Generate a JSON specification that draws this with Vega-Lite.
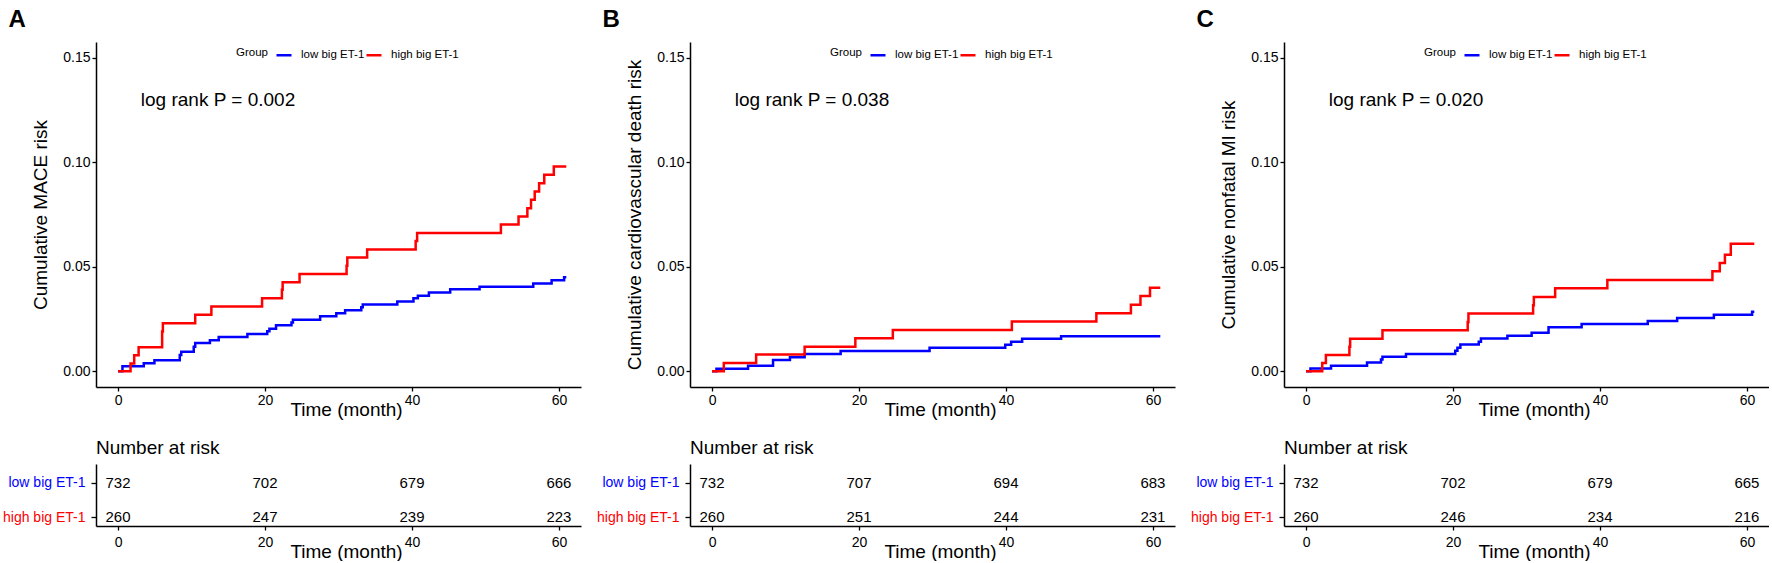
{
  "$schema": "https://vega.github.io/schema/vega-lite/v6.json",
  "padding": {"left": 2, "top": 8, "right": 0, "bottom": 0},
  "background": "white",
  "config": {
    "font": "Liberation Sans",
    "view": {"stroke": null},
    "axis": {"grid": false, "domainColor": "#000", "domainWidth": 1.5, "tickColor": "#000", "tickWidth": 1.3, "tickSize": 4, "labelColor": "#000", "labelFontSize": 14, "labelPadding": 2, "titleColor": "#000", "titleFontSize": 19, "titleFontWeight": "normal"},
    "legend": {"orient": "none", "legendX": 140, "legendY": 4, "direction": "horizontal", "titleOrient": "left", "titleFontSize": 11.5, "titleFontWeight": "normal", "titleColor": "#000", "labelFontSize": 11.5, "labelColor": "#000", "symbolType": "stroke", "symbolStrokeWidth": 2.5, "symbolSize": 225, "labelOffset": 8, "columnPadding": -6, "titlePadding": 7},
    "title": {"color": "#000"}
  },
  "datasets": {
    "km": [
      {"panel": "A", "group": "low big ET-1", "month": 0, "risk": 0},
      {"panel": "A", "group": "low big ET-1", "month": 0.6, "risk": 0.0024},
      {"panel": "A", "group": "low big ET-1", "month": 3.5, "risk": 0.0038},
      {"panel": "A", "group": "low big ET-1", "month": 4.95, "risk": 0.0053},
      {"panel": "A", "group": "low big ET-1", "month": 8.4, "risk": 0.0078},
      {"panel": "A", "group": "low big ET-1", "month": 8.6, "risk": 0.0093},
      {"panel": "A", "group": "low big ET-1", "month": 10.3, "risk": 0.0117},
      {"panel": "A", "group": "low big ET-1", "month": 10.5, "risk": 0.0136},
      {"panel": "A", "group": "low big ET-1", "month": 12.5, "risk": 0.0148},
      {"panel": "A", "group": "low big ET-1", "month": 13.7, "risk": 0.0164},
      {"panel": "A", "group": "low big ET-1", "month": 17.6, "risk": 0.0179},
      {"panel": "A", "group": "low big ET-1", "month": 20.3, "risk": 0.0192},
      {"panel": "A", "group": "low big ET-1", "month": 20.6, "risk": 0.0204},
      {"panel": "A", "group": "low big ET-1", "month": 21.5, "risk": 0.022},
      {"panel": "A", "group": "low big ET-1", "month": 23.6, "risk": 0.0234},
      {"panel": "A", "group": "low big ET-1", "month": 23.8, "risk": 0.0247},
      {"panel": "A", "group": "low big ET-1", "month": 27.5, "risk": 0.0263},
      {"panel": "A", "group": "low big ET-1", "month": 29.7, "risk": 0.0278},
      {"panel": "A", "group": "low big ET-1", "month": 30.9, "risk": 0.0292},
      {"panel": "A", "group": "low big ET-1", "month": 33.1, "risk": 0.0306},
      {"panel": "A", "group": "low big ET-1", "month": 33.3, "risk": 0.0319},
      {"panel": "A", "group": "low big ET-1", "month": 38.0, "risk": 0.0334},
      {"panel": "A", "group": "low big ET-1", "month": 40.2, "risk": 0.035},
      {"panel": "A", "group": "low big ET-1", "month": 40.8, "risk": 0.0362},
      {"panel": "A", "group": "low big ET-1", "month": 42.3, "risk": 0.0377},
      {"panel": "A", "group": "low big ET-1", "month": 45.2, "risk": 0.0393},
      {"panel": "A", "group": "low big ET-1", "month": 49.2, "risk": 0.0405},
      {"panel": "A", "group": "low big ET-1", "month": 56.5, "risk": 0.042},
      {"panel": "A", "group": "low big ET-1", "month": 59.0, "risk": 0.0435},
      {"panel": "A", "group": "low big ET-1", "month": 60.7, "risk": 0.045},
      {"panel": "A", "group": "low big ET-1", "month": 61, "risk": 0.045},
      {"panel": "A", "group": "high big ET-1", "month": 0, "risk": 0},
      {"panel": "A", "group": "high big ET-1", "month": 1.7, "risk": 0.0037},
      {"panel": "A", "group": "high big ET-1", "month": 2.2, "risk": 0.0077},
      {"panel": "A", "group": "high big ET-1", "month": 2.8, "risk": 0.0115},
      {"panel": "A", "group": "high big ET-1", "month": 6.0, "risk": 0.019},
      {"panel": "A", "group": "high big ET-1", "month": 6.1, "risk": 0.023},
      {"panel": "A", "group": "high big ET-1", "month": 10.5, "risk": 0.027},
      {"panel": "A", "group": "high big ET-1", "month": 12.7, "risk": 0.031},
      {"panel": "A", "group": "high big ET-1", "month": 19.6, "risk": 0.035},
      {"panel": "A", "group": "high big ET-1", "month": 22.3, "risk": 0.039},
      {"panel": "A", "group": "high big ET-1", "month": 22.4, "risk": 0.0426},
      {"panel": "A", "group": "high big ET-1", "month": 24.7, "risk": 0.0465},
      {"panel": "A", "group": "high big ET-1", "month": 31.1, "risk": 0.0505},
      {"panel": "A", "group": "high big ET-1", "month": 31.2, "risk": 0.0544},
      {"panel": "A", "group": "high big ET-1", "month": 33.9, "risk": 0.0583},
      {"panel": "A", "group": "high big ET-1", "month": 40.5, "risk": 0.0623},
      {"panel": "A", "group": "high big ET-1", "month": 40.7, "risk": 0.0662},
      {"panel": "A", "group": "high big ET-1", "month": 52.1, "risk": 0.0702},
      {"panel": "A", "group": "high big ET-1", "month": 54.5, "risk": 0.0741},
      {"panel": "A", "group": "high big ET-1", "month": 55.7, "risk": 0.078},
      {"panel": "A", "group": "high big ET-1", "month": 56.2, "risk": 0.082},
      {"panel": "A", "group": "high big ET-1", "month": 56.7, "risk": 0.086},
      {"panel": "A", "group": "high big ET-1", "month": 57.3, "risk": 0.09},
      {"panel": "A", "group": "high big ET-1", "month": 58.0, "risk": 0.094},
      {"panel": "A", "group": "high big ET-1", "month": 59.3, "risk": 0.098},
      {"panel": "A", "group": "high big ET-1", "month": 61, "risk": 0.098},
      {"panel": "B", "group": "low big ET-1", "month": 0, "risk": 0},
      {"panel": "B", "group": "low big ET-1", "month": 0.6, "risk": 0.0012},
      {"panel": "B", "group": "low big ET-1", "month": 4.9, "risk": 0.0027},
      {"panel": "B", "group": "low big ET-1", "month": 8.3, "risk": 0.0054},
      {"panel": "B", "group": "low big ET-1", "month": 10.6, "risk": 0.0067},
      {"panel": "B", "group": "low big ET-1", "month": 12.6, "risk": 0.0083},
      {"panel": "B", "group": "low big ET-1", "month": 17.5, "risk": 0.0097},
      {"panel": "B", "group": "low big ET-1", "month": 29.6, "risk": 0.0113},
      {"panel": "B", "group": "low big ET-1", "month": 39.9, "risk": 0.0127},
      {"panel": "B", "group": "low big ET-1", "month": 40.7, "risk": 0.0141},
      {"panel": "B", "group": "low big ET-1", "month": 42.2, "risk": 0.0156},
      {"panel": "B", "group": "low big ET-1", "month": 47.5, "risk": 0.0168},
      {"panel": "B", "group": "low big ET-1", "month": 61, "risk": 0.0168},
      {"panel": "B", "group": "high big ET-1", "month": 0, "risk": 0},
      {"panel": "B", "group": "high big ET-1", "month": 1.6, "risk": 0.004},
      {"panel": "B", "group": "high big ET-1", "month": 6.0, "risk": 0.008},
      {"panel": "B", "group": "high big ET-1", "month": 12.6, "risk": 0.0118},
      {"panel": "B", "group": "high big ET-1", "month": 19.5, "risk": 0.0158},
      {"panel": "B", "group": "high big ET-1", "month": 24.6, "risk": 0.0198},
      {"panel": "B", "group": "high big ET-1", "month": 40.8, "risk": 0.0238},
      {"panel": "B", "group": "high big ET-1", "month": 52.3, "risk": 0.0278},
      {"panel": "B", "group": "high big ET-1", "month": 57.0, "risk": 0.0318},
      {"panel": "B", "group": "high big ET-1", "month": 58.3, "risk": 0.036},
      {"panel": "B", "group": "high big ET-1", "month": 59.6, "risk": 0.04},
      {"panel": "B", "group": "high big ET-1", "month": 61, "risk": 0.04},
      {"panel": "C", "group": "low big ET-1", "month": 0, "risk": 0},
      {"panel": "C", "group": "low big ET-1", "month": 0.6, "risk": 0.0013},
      {"panel": "C", "group": "low big ET-1", "month": 3.4, "risk": 0.0027},
      {"panel": "C", "group": "low big ET-1", "month": 8.3, "risk": 0.0042},
      {"panel": "C", "group": "low big ET-1", "month": 10.2, "risk": 0.0056},
      {"panel": "C", "group": "low big ET-1", "month": 10.4, "risk": 0.007},
      {"panel": "C", "group": "low big ET-1", "month": 13.6, "risk": 0.0083},
      {"panel": "C", "group": "low big ET-1", "month": 20.3, "risk": 0.0098},
      {"panel": "C", "group": "low big ET-1", "month": 20.6, "risk": 0.0113},
      {"panel": "C", "group": "low big ET-1", "month": 21.0, "risk": 0.0128},
      {"panel": "C", "group": "low big ET-1", "month": 23.5, "risk": 0.0142},
      {"panel": "C", "group": "low big ET-1", "month": 23.8, "risk": 0.0157},
      {"panel": "C", "group": "low big ET-1", "month": 27.4, "risk": 0.017},
      {"panel": "C", "group": "low big ET-1", "month": 30.7, "risk": 0.0184},
      {"panel": "C", "group": "low big ET-1", "month": 33.0, "risk": 0.0211},
      {"panel": "C", "group": "low big ET-1", "month": 37.5, "risk": 0.0226},
      {"panel": "C", "group": "low big ET-1", "month": 46.5, "risk": 0.0241},
      {"panel": "C", "group": "low big ET-1", "month": 50.5, "risk": 0.0255},
      {"panel": "C", "group": "low big ET-1", "month": 55.5, "risk": 0.027},
      {"panel": "C", "group": "low big ET-1", "month": 60.7, "risk": 0.0285},
      {"panel": "C", "group": "low big ET-1", "month": 61, "risk": 0.0285},
      {"panel": "C", "group": "high big ET-1", "month": 0, "risk": 0},
      {"panel": "C", "group": "high big ET-1", "month": 2.2, "risk": 0.004},
      {"panel": "C", "group": "high big ET-1", "month": 2.7, "risk": 0.0078},
      {"panel": "C", "group": "high big ET-1", "month": 5.9, "risk": 0.0117},
      {"panel": "C", "group": "high big ET-1", "month": 6.0, "risk": 0.0156},
      {"panel": "C", "group": "high big ET-1", "month": 10.4, "risk": 0.0196},
      {"panel": "C", "group": "high big ET-1", "month": 22.0, "risk": 0.0236},
      {"panel": "C", "group": "high big ET-1", "month": 22.1, "risk": 0.0276},
      {"panel": "C", "group": "high big ET-1", "month": 30.9, "risk": 0.0316},
      {"panel": "C", "group": "high big ET-1", "month": 31.0, "risk": 0.0356},
      {"panel": "C", "group": "high big ET-1", "month": 33.9, "risk": 0.0397},
      {"panel": "C", "group": "high big ET-1", "month": 41.0, "risk": 0.0437},
      {"panel": "C", "group": "high big ET-1", "month": 55.3, "risk": 0.0478},
      {"panel": "C", "group": "high big ET-1", "month": 56.3, "risk": 0.0518},
      {"panel": "C", "group": "high big ET-1", "month": 57.0, "risk": 0.0558},
      {"panel": "C", "group": "high big ET-1", "month": 57.8, "risk": 0.061},
      {"panel": "C", "group": "high big ET-1", "month": 61, "risk": 0.061}
    ],
    "risk": [
      {"panel": "A", "group": "low big ET-1", "month": 0, "n": 732},
      {"panel": "A", "group": "low big ET-1", "month": 20, "n": 702},
      {"panel": "A", "group": "low big ET-1", "month": 40, "n": 679},
      {"panel": "A", "group": "low big ET-1", "month": 60, "n": 666},
      {"panel": "A", "group": "high big ET-1", "month": 0, "n": 260},
      {"panel": "A", "group": "high big ET-1", "month": 20, "n": 247},
      {"panel": "A", "group": "high big ET-1", "month": 40, "n": 239},
      {"panel": "A", "group": "high big ET-1", "month": 60, "n": 223},
      {"panel": "B", "group": "low big ET-1", "month": 0, "n": 732},
      {"panel": "B", "group": "low big ET-1", "month": 20, "n": 707},
      {"panel": "B", "group": "low big ET-1", "month": 40, "n": 694},
      {"panel": "B", "group": "low big ET-1", "month": 60, "n": 683},
      {"panel": "B", "group": "high big ET-1", "month": 0, "n": 260},
      {"panel": "B", "group": "high big ET-1", "month": 20, "n": 251},
      {"panel": "B", "group": "high big ET-1", "month": 40, "n": 244},
      {"panel": "B", "group": "high big ET-1", "month": 60, "n": 231},
      {"panel": "C", "group": "low big ET-1", "month": 0, "n": 732},
      {"panel": "C", "group": "low big ET-1", "month": 20, "n": 702},
      {"panel": "C", "group": "low big ET-1", "month": 40, "n": 679},
      {"panel": "C", "group": "low big ET-1", "month": 60, "n": 665},
      {"panel": "C", "group": "high big ET-1", "month": 0, "n": 260},
      {"panel": "C", "group": "high big ET-1", "month": 20, "n": 246},
      {"panel": "C", "group": "high big ET-1", "month": 40, "n": 234},
      {"panel": "C", "group": "high big ET-1", "month": 60, "n": 216}
    ],
    "notes": [
      {"panel": "A", "label": "log rank P = 0.002"},
      {"panel": "B", "label": "log rank P = 0.038"},
      {"panel": "C", "label": "log rank P = 0.020"}
    ]
  },
  "hconcat": [
    {
      "title": {"text": "A", "anchor": "start", "frame": "bounds", "fontSize": 24, "fontWeight": "bold", "offset": 10, "dx": 6},
      "spacing": 20,
      "vconcat": [
        {
          "width": 485, "height": 345,
          "layer": [
            {
              "data": {"name": "km"},
              "transform": [{"filter": "datum.panel === 'A'"}],
              "mark": {"type": "line", "interpolate": "step-after", "strokeWidth": 2.5},
              "encoding": {
                "x": {"field": "month", "type": "quantitative", "scale": {"domain": [-3, 63], "nice": false, "zero": false}, "axis": {"values": [0, 20, 40, 60], "title": "Time (month)", "titleX": 250, "titleY": 22, "titleBaseline": "middle", "titleAlign": "center"}},
                "y": {"field": "risk", "type": "quantitative", "scale": {"domain": [-0.0075, 0.1575], "nice": false, "zero": false}, "axis": {"values": [0, 0.05, 0.1, 0.15], "format": ".2f", "title": "Cumulative MACE risk", "titlePadding": 12, "titleLimit": 1000}},
                "color": {"field": "group", "type": "nominal", "scale": {"domain": ["low big ET-1", "high big ET-1"], "range": ["#0000FF", "#FF0000"]}, "legend": {"title": "Group"}}
              }
            },
            {
              "data": {"name": "notes"},
              "transform": [{"filter": "datum.panel === 'A'"}],
              "mark": {"type": "text", "align": "left", "baseline": "middle", "fontSize": 19, "color": "#000"},
              "encoding": {"x": {"datum": 3.1}, "y": {"datum": 0.13}, "text": {"field": "label"}}
            }
          ]
        },
        {
          "width": 485, "height": 62,
          "title": {"text": "Number at risk", "anchor": "start", "frame": "group", "fontSize": 19, "fontWeight": "normal", "offset": 6},
          "data": {"name": "risk"},
          "transform": [{"filter": "datum.panel === 'A'"}],
          "mark": {"type": "text", "fontSize": 15, "color": "#000", "dy": 5},
          "encoding": {
            "x": {"field": "month", "type": "quantitative", "scale": {"domain": [-3, 63], "nice": false, "zero": false}, "axis": {"values": [0, 20, 40, 60], "title": "Time (month)", "labelPadding": 5, "titleX": 250, "titleY": 25, "titleBaseline": "middle", "titleAlign": "center"}},
            "y": {"field": "group", "type": "nominal", "sort": ["low big ET-1", "high big ET-1"], "scale": {"type": "point", "padding": 0.41}, "axis": {"title": null, "labelFontSize": 14, "labelPadding": 6, "tickSize": 5, "tickOffset": 5, "labelOffset": 0, "labelColor": {"condition": {"test": "datum.value === 'low big ET-1'", "value": "#0000FF"}, "value": "#FF0000"}}},
            "text": {"field": "n", "type": "quantitative"}
          }
        }
      ]
    },
    {
      "title": {"text": "B", "anchor": "start", "frame": "bounds", "fontSize": 24, "fontWeight": "bold", "offset": 10, "dx": 6},
      "spacing": 20,
      "vconcat": [
        {
          "width": 485, "height": 345,
          "layer": [
            {
              "data": {"name": "km"},
              "transform": [{"filter": "datum.panel === 'B'"}],
              "mark": {"type": "line", "interpolate": "step-after", "strokeWidth": 2.5},
              "encoding": {
                "x": {"field": "month", "type": "quantitative", "scale": {"domain": [-3, 63], "nice": false, "zero": false}, "axis": {"values": [0, 20, 40, 60], "title": "Time (month)", "titleX": 250, "titleY": 22, "titleBaseline": "middle", "titleAlign": "center"}},
                "y": {"field": "risk", "type": "quantitative", "scale": {"domain": [-0.0075, 0.1575], "nice": false, "zero": false}, "axis": {"values": [0, 0.05, 0.1, 0.15], "format": ".2f", "title": "Cumulative cardiovascular death risk", "titlePadding": 12, "titleLimit": 1000}},
                "color": {"field": "group", "type": "nominal", "scale": {"domain": ["low big ET-1", "high big ET-1"], "range": ["#0000FF", "#FF0000"]}, "legend": {"title": "Group"}}
              }
            },
            {
              "data": {"name": "notes"},
              "transform": [{"filter": "datum.panel === 'B'"}],
              "mark": {"type": "text", "align": "left", "baseline": "middle", "fontSize": 19, "color": "#000"},
              "encoding": {"x": {"datum": 3.1}, "y": {"datum": 0.13}, "text": {"field": "label"}}
            }
          ]
        },
        {
          "width": 485, "height": 62,
          "title": {"text": "Number at risk", "anchor": "start", "frame": "group", "fontSize": 19, "fontWeight": "normal", "offset": 6},
          "data": {"name": "risk"},
          "transform": [{"filter": "datum.panel === 'B'"}],
          "mark": {"type": "text", "fontSize": 15, "color": "#000", "dy": 5},
          "encoding": {
            "x": {"field": "month", "type": "quantitative", "scale": {"domain": [-3, 63], "nice": false, "zero": false}, "axis": {"values": [0, 20, 40, 60], "title": "Time (month)", "labelPadding": 5, "titleX": 250, "titleY": 25, "titleBaseline": "middle", "titleAlign": "center"}},
            "y": {"field": "group", "type": "nominal", "sort": ["low big ET-1", "high big ET-1"], "scale": {"type": "point", "padding": 0.41}, "axis": {"title": null, "labelFontSize": 14, "labelPadding": 6, "tickSize": 5, "tickOffset": 5, "labelOffset": 0, "labelColor": {"condition": {"test": "datum.value === 'low big ET-1'", "value": "#0000FF"}, "value": "#FF0000"}}},
            "text": {"field": "n", "type": "quantitative"}
          }
        }
      ]
    },
    {
      "title": {"text": "C", "anchor": "start", "frame": "bounds", "fontSize": 24, "fontWeight": "bold", "offset": 10, "dx": 6},
      "spacing": 20,
      "vconcat": [
        {
          "width": 485, "height": 345,
          "layer": [
            {
              "data": {"name": "km"},
              "transform": [{"filter": "datum.panel === 'C'"}],
              "mark": {"type": "line", "interpolate": "step-after", "strokeWidth": 2.5},
              "encoding": {
                "x": {"field": "month", "type": "quantitative", "scale": {"domain": [-3, 63], "nice": false, "zero": false}, "axis": {"values": [0, 20, 40, 60], "title": "Time (month)", "titleX": 250, "titleY": 22, "titleBaseline": "middle", "titleAlign": "center"}},
                "y": {"field": "risk", "type": "quantitative", "scale": {"domain": [-0.0075, 0.1575], "nice": false, "zero": false}, "axis": {"values": [0, 0.05, 0.1, 0.15], "format": ".2f", "title": "Cumulative nonfatal MI risk", "titlePadding": 12, "titleLimit": 1000}},
                "color": {"field": "group", "type": "nominal", "scale": {"domain": ["low big ET-1", "high big ET-1"], "range": ["#0000FF", "#FF0000"]}, "legend": {"title": "Group"}}
              }
            },
            {
              "data": {"name": "notes"},
              "transform": [{"filter": "datum.panel === 'C'"}],
              "mark": {"type": "text", "align": "left", "baseline": "middle", "fontSize": 19, "color": "#000"},
              "encoding": {"x": {"datum": 3.1}, "y": {"datum": 0.13}, "text": {"field": "label"}}
            }
          ]
        },
        {
          "width": 485, "height": 62,
          "title": {"text": "Number at risk", "anchor": "start", "frame": "group", "fontSize": 19, "fontWeight": "normal", "offset": 6},
          "data": {"name": "risk"},
          "transform": [{"filter": "datum.panel === 'C'"}],
          "mark": {"type": "text", "fontSize": 15, "color": "#000", "dy": 5},
          "encoding": {
            "x": {"field": "month", "type": "quantitative", "scale": {"domain": [-3, 63], "nice": false, "zero": false}, "axis": {"values": [0, 20, 40, 60], "title": "Time (month)", "labelPadding": 5, "titleX": 250, "titleY": 25, "titleBaseline": "middle", "titleAlign": "center"}},
            "y": {"field": "group", "type": "nominal", "sort": ["low big ET-1", "high big ET-1"], "scale": {"type": "point", "padding": 0.41}, "axis": {"title": null, "labelFontSize": 14, "labelPadding": 6, "tickSize": 5, "tickOffset": 5, "labelOffset": 0, "labelColor": {"condition": {"test": "datum.value === 'low big ET-1'", "value": "#0000FF"}, "value": "#FF0000"}}},
            "text": {"field": "n", "type": "quantitative"}
          }
        }
      ]
    }
  ],
  "spacing": 15,
  "resolve": {"scale": {"color": "independent"}, "legend": {"color": "independent"}}
}
